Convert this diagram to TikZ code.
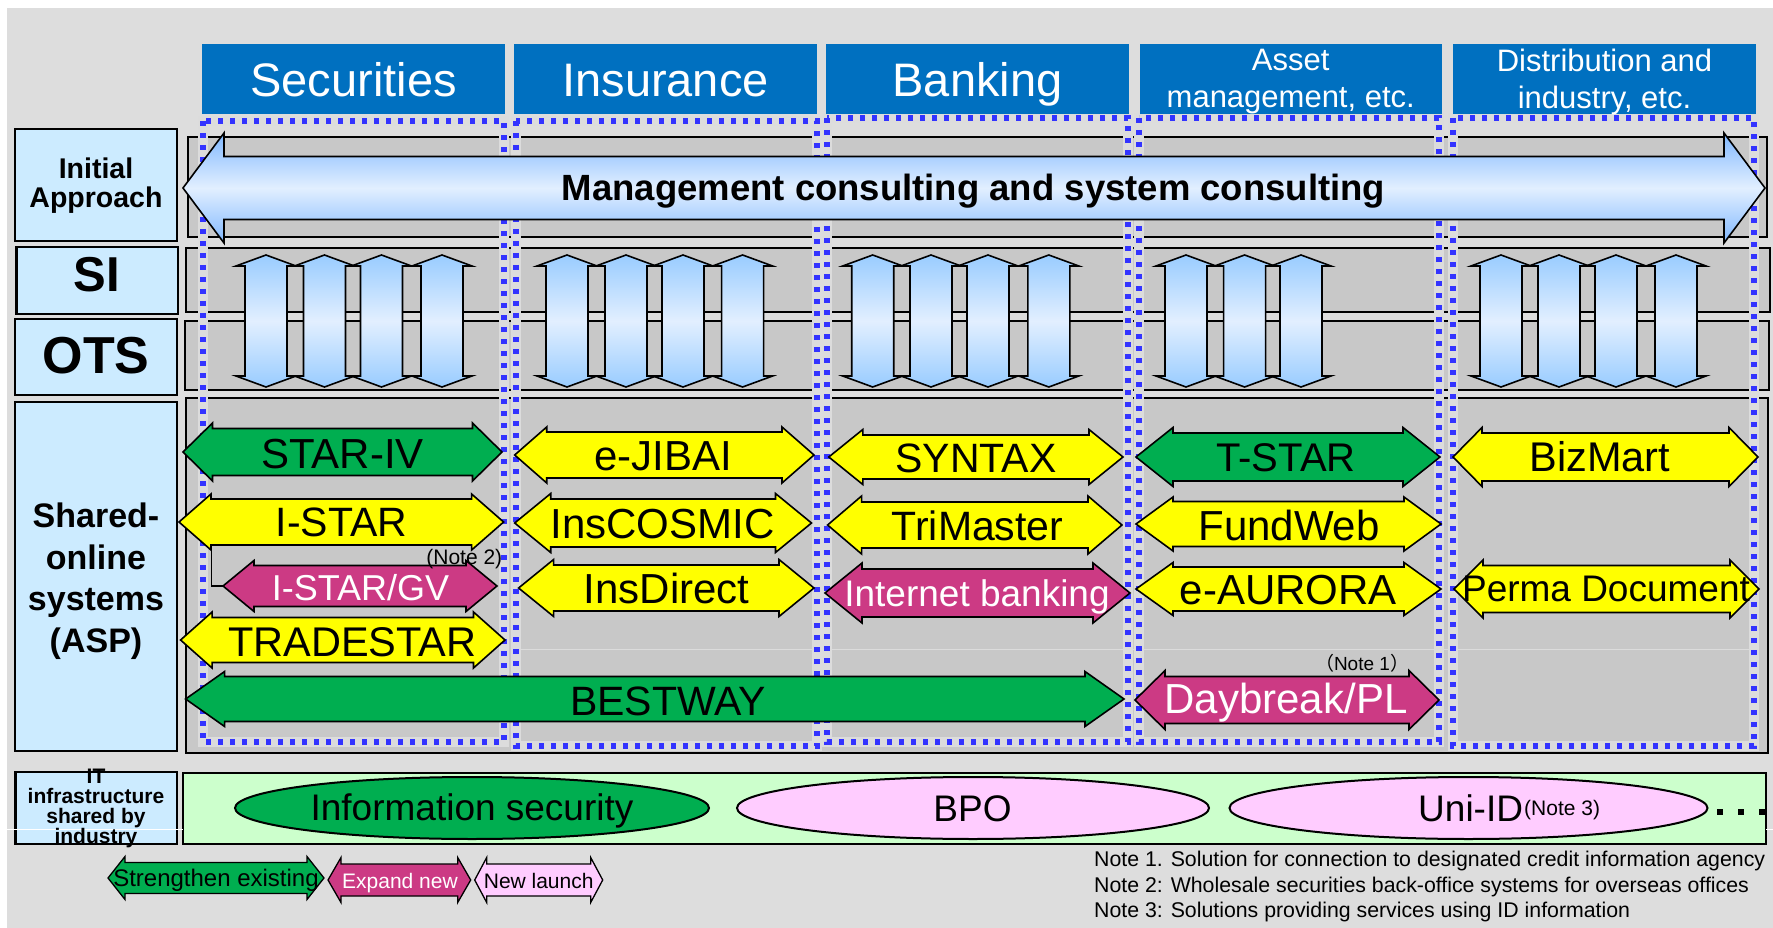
\documentclass[tikz,border=0pt]{standalone}
\usepackage{fontspec}
\setmainfont{Liberation Sans}
\newfontfamily\cjkfont{Noto Sans CJK JP}
\usetikzlibrary{shapes.geometric}
\definecolor{bg}{HTML}{DDDDDD}
\definecolor{band}{HTML}{C8C8C8}
\definecolor{hdr}{HTML}{0070C0}
\definecolor{lblue}{HTML}{CCEBFF}
\definecolor{dotblue}{HTML}{3333FF}
\definecolor{haloc}{HTML}{DCDCDC}
\definecolor{grn}{HTML}{00AE50}
\definecolor{ylw}{HTML}{FFFF00}
\definecolor{mag}{HTML}{CC3A84}
\definecolor{pnk}{HTML}{FFCCFF}
\definecolor{lgrn}{HTML}{CCFFCC}
\definecolor{arrtop}{HTML}{99CCFF}
\definecolor{arrtopbig}{HTML}{80B8FF}
\definecolor{arrmid}{HTML}{E2EFFF}
\newcommand{\harrowshape}[7]{%
  \path[#1] (#2,#4) -- (#2+#5,#4-#6) -- (#2+#5,#4-#7) -- (#3-#5,#4-#7) -- (#3-#5,#4-#6) -- (#3,#4)
    -- (#3-#5,#4+#6) -- (#3-#5,#4+#7) -- (#2+#5,#4+#7) -- (#2+#5,#4+#6) -- cycle;}
\newcommand{\varrowshape}[1]{%
  \path[varr] (#1,255) -- (#1+30,266) -- (#1+21,266) -- (#1+21,376) -- (#1+30,376) -- (#1,387)
    -- (#1-30,376) -- (#1-21,376) -- (#1-21,266) -- (#1-30,266) -- cycle;}
\begin{document}
\begin{tikzpicture}[x=1pt,y=-1pt,
  lab/.style={font=\fontsize{#1}{#1}\selectfont, anchor=base, inner sep=0pt},
  blab/.style={font=\fontsize{#1}{#1}\selectfont\bfseries, anchor=base, inner sep=0pt},
  mlab/.style 2 args={font=\fontsize{#1}{#2}\selectfont, align=center, anchor=center, inner sep=0pt},
  bml/.style 2 args={font=\fontsize{#1}{#2}\selectfont\bfseries, align=center, anchor=center, inner sep=0pt},
  lbox/.style={draw=black, line width=2.2pt, fill=lblue},
  bandst/.style={draw=black, line width=2pt, fill=band},
  halo/.style={draw=haloc, line width=10pt},
  dotst/.style={draw=dotblue, line width=5.2pt, dash pattern=on 5.2pt off 6.8pt},
  varr/.style={draw=black, line width=1.6pt, top color=arrtop, bottom color=arrtop, middle color=arrmid},
  bigarr/.style={draw=black, line width=1.6pt, top color=arrtopbig, bottom color=arrtopbig, middle color=arrmid},
  garr/.style={draw=black, line width=1.6pt, fill=grn},
  yarr/.style={draw=black, line width=1.6pt, fill=ylw},
  marr/.style={draw=black, line width=1.6pt, fill=mag},
  parr/.style={draw=black, line width=1.6pt, fill=pnk},
  ellst/.style={ellipse, draw=black, line width=2pt, inner sep=0pt}]
\useasboundingbox (0,0) rectangle (1773,928);
\fill[white] (0,0) rectangle (1773,928);
\fill[bg] (6.5,8) rectangle (1773,928);

% left label boxes
\path[lbox] (15.3,129) rectangle (177,241);
\path[lbox] (16.5,247) rectangle (178,314);
\path[lbox] (15.3,319) rectangle (177,395);
\path[lbox] (15.3,402) rectangle (177,751);
\path[lbox] (15.5,772) rectangle (177,844);

% bands
\path[bandst] (188,137) rectangle (1767,237);
\path[bandst] (186,248) rectangle (1770,312);
\path[bandst] (185,321) rectangle (1769,390);
\path[bandst] (185.6,398) rectangle (1768,753);
\path[bandst, fill=lgrn] (182.5,773) rectangle (1766,844);
\draw[haloc, line width=1pt] (515,649) -- (1750,649);
\draw[white, line width=1pt] (6.5,829) -- (182.5,829);
\draw[white, line width=1pt] (1766,829) -- (1773,829);

% dotted column boxes
\foreach \a/\b/\c/\d in {203/121/504/742, 516/121/817/746, 827/118/1128/742, 1139/118/1439/742, 1453/118/1754/746} {
  \draw[halo] (\a,\b) rectangle (\c,\d);
  \draw[dotst] (\a,\b) rectangle (\c,\d);
}

% column headers
\fill[hdr] (202,44) rectangle (505,114);
\fill[hdr] (514,44) rectangle (817,114);
\fill[hdr] (826,44) rectangle (1129,114);
\fill[hdr] (1139.5,44) rectangle (1442,114);
\fill[hdr] (1453,44) rectangle (1756,114);
\node[lab=47, text=white] (tsec) at (353.5,96.7) {Securities};
\node[lab=47, text=white] (tins) at (665.5,96.7) {Insurance};
\node[lab=47, text=white] (tbank) at (977.5,96.7) {Banking};
\node[mlab={31}{37}, text=white] (tasset) at (1290.75,81.8) {Asset\\management, etc.};
\node[mlab={31}{37}, text=white] (tdist) at (1604.5,81.7) {Distribution and\\industry, etc.};

% row label texts
\node[bml={28.5}{28.4}] (tinit) at (96,185.5) {Initial\\Approach};
\node[blab=49] (tsi) at (97,291.7) {SI};
\node[blab=52] (tots) at (96,373) {OTS};
\node[bml={34}{41.5}] (tshared) at (96,581) {Shared-\\online\\systems\\(ASP)};
\node[bml={21}{20}] (tit) at (96,808) {IT\\infrastructure\\shared by\\industry};

% big consulting arrow
\harrowshape{bigarr}{183}{1765}{188}{41}{55}{31.5}
\node[blab=36.5] (mgmt) at (973.5,201) {Management consulting and system consulting};

% SI / OTS vertical arrows
\foreach \x in {266,324.5,381.5,442,567,626,683,742.6,872.7,931,988,1048.8,1186,1244.6,1301,1501,1559,1616,1676} {
  \varrowshape{\x}
}

% shared online systems
\coordinate (istarSW) at (211.6,545);
\coordinate (gvW) at (223,586);
\draw[line width=1.6pt] (istarSW) |- (gvW);
\harrowshape{garr}{183}{502}{452}{29.5}{29}{23.5}
\harrowshape{yarr}{179}{503.6}{522}{32}{28}{23}
\harrowshape{marr}{223}{497}{586}{31}{25.5}{20.5}
\harrowshape{yarr}{180.6}{505}{640}{31.5}{28}{22.5}
\harrowshape{garr}{185.6}{1124}{699}{39}{27.5}{22.5}
\harrowshape{yarr}{514.7}{814}{455}{32}{28}{23}
\harrowshape{yarr}{514.7}{811.5}{523}{36}{29.5}{24}
\harrowshape{yarr}{518.6}{814}{588}{35}{28.5}{23}
\harrowshape{yarr}{828.8}{1123}{457}{34}{27.5}{22}
\harrowshape{yarr}{827.6}{1122}{525}{34}{29}{23}
\harrowshape{marr}{825}{1130}{593}{37}{30}{24}
\harrowshape{garr}{1136}{1440}{457}{37}{29.5}{24}
\harrowshape{yarr}{1136}{1441}{524}{37}{27}{22.5}
\harrowshape{yarr}{1136}{1441}{589}{37}{26.5}{22}
\harrowshape{marr}{1135}{1439}{700}{30}{29.5}{23.5}
\harrowshape{yarr}{1453}{1758}{457}{29}{29.5}{24}
\harrowshape{yarr}{1454}{1759}{589}{29}{29}{23.5}

\node[lab=42] (starIV) at (342.5,468) {STAR-IV};
\node[lab=41] (istar) at (341.3,536.7) {I-STAR};
\node[lab=36, text=white] (istargv) at (360.5,600) {I-STAR/GV};
\node[lab=21] (note2) at (464.3,564) {(Note 2)};
\node[lab=41.5] (tradestar) at (352.3,656.7) {TRADESTAR};
\node[lab=41] (bestway) at (668,715) {BESTWAY};
\node[lab=42] (ejibai) at (663,470) {e-JIBAI};
\node[lab=42] (inscosmic) at (662.6,538.3) {InsCOSMIC};
\node[lab=42] (insdirect) at (666.5,603.3) {InsDirect};
\node[lab=41] (syntax) at (976,472.7) {SYNTAX};
\node[lab=41] (trimaster) at (977.5,540) {TriMaster};
\node[lab=37, text=white] (netbank) at (977,606.7) {Internet banking};
\node[lab=40] (tstar) at (1286,471.7) {T-STAR};
\node[lab=42] (fundweb) at (1289,540) {FundWeb};
\node[lab=42] (eaurora) at (1288.4,604) {e-AURORA};
\node[lab=42, text=white] (daybreak) at (1286,713.3) {Daybreak/PL};
\node[lab=19] (note1) at (1362,670.7) {{\cjkfont （}Note 1{\cjkfont ）}};
\node[lab=41.5] (bizmart) at (1599.8,471.7) {BizMart};
\node[lab=37] (perma) at (1606,601.7) {Perma Document};

% IT infrastructure row
\node[ellst, fill=grn, minimum width=474, minimum height=62] (infosec) at (472,808) {};
\node[ellst, fill=pnk, minimum width=472, minimum height=62] (bpo) at (973,808) {};
\node[ellst, fill=pnk, minimum width=478, minimum height=62] (uniid) at (1468.5,808) {};
\node[lab=37] (tinfosec) at (472,820) {Information security};
\node[lab=37] (tbpo) at (972.5,821.7) {BPO};
\node[lab=37, anchor=base west] (tuniid) at (1418,821.7) {Uni-ID};
\node[lab=21, anchor=base west] (note3) at (1524,815) {(Note 3)};
\fill (1717,809) rectangle (1723,815);
\fill (1738,809) rectangle (1744,815);
\fill (1758.5,809) rectangle (1764.5,815);

% legend
\harrowshape{garr, line width=1.3pt}{108}{324}{878}{17}{21.5}{15.5}
\harrowshape{marr, line width=1.3pt}{328}{470.7}{880}{13}{22.5}{16}
\harrowshape{parr, line width=1.3pt}{474.7}{602.7}{880}{12}{22.5}{16}
\node[lab=24] (lg1) at (216,886.7) {Strengthen existing};
\node[lab=21, text=white] (lg2) at (400,888.3) {Expand new};
\node[lab=21] (lg3) at (538.7,888.3) {New launch};

% notes
\node[lab=21.3, anchor=base west] (n1) at (1094,866.7) {Note 1. Solution for connection to designated credit information agency};
\node[lab=21.3, anchor=base west] (n2) at (1094,892.7) {Note 2: Wholesale securities back-office systems for overseas offices};
\node[lab=21.3, anchor=base west] (n3) at (1094,917.7) {Note 3: Solutions providing services using ID information};
\end{tikzpicture}
\end{document}
